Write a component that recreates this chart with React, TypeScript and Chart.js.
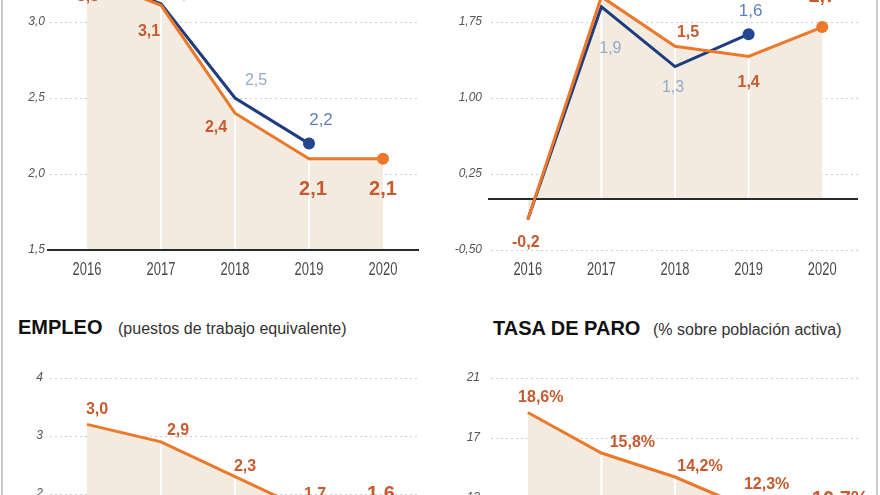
import React, { useEffect, useRef } from "react";
import { Chart, registerables } from "chart.js";

Chart.register(...registerables);

// ---------- data ----------
const years = ["2016", "2017", "2018", "2019", "2020"];

// top-left panel
const pibOrange = [3.3, 3.11, 2.4, 2.1, 2.1];
const pibBlue = [3.3, 3.12, 2.5, 2.2];
const pibOrangeLabels = ["3,3", "3,1", "2,4", "2,1", "2,1"];
const pibBlueLabels = ["", "3,1", "2,5", "2,2"];
const pibTicks = [1.5, 2.0, 2.5, 3.0, 3.5];

// top-right panel
const ipcOrange = [-0.2, 2.0, 1.51, 1.41, 1.7];
const ipcBlue = [-0.2, 1.9, 1.31, 1.63];
const ipcOrangeLabels = ["-0,2", "2,0", "1,5", "1,4", "1,7"];
const ipcBlueLabels = ["", "1,9", "1,3", "1,6"];
const ipcTicks = [-0.5, 0.25, 1.0, 1.75, 2.5];

// bottom-left panel (EMPLEO)
const empleoOrange = [3.2, 2.9, 2.3, 1.7, 1.6];
const empleoLabels = ["3,0", "2,9", "2,3", "1,7", "1,6"];
const empleoTicks = [1, 2, 3, 4];

// bottom-right panel (TASA DE PARO)
const paroOrange = [18.7, 16.0, 14.4, 12.3, 10.7];
const paroLabels = ["18,6%", "15,8%", "14,2%", "12,3%", "10,7%"];
const paroTicks = [9, 13, 17, 21];

// ---------- label placement (text offsets from each point) ----------
type Off = [number, number];
const pibOrangeOff: Off[] = [[1, 20], [-12, 26], [-19, 14], [4, 31], [0, 31]];
const pibOrangeBig = [false, false, false, true, true];
const pibBlueOff: Off[] = [[0, 0], [23, -9], [21, -17], [12, -23]];
const pibBlueStrong = [false, false, false, true];

const ipcOrangeOff: Off[] = [[-2, 23], [0, -22], [13, -14], [0, 26], [0, -31]];
const ipcOrangeBig = [false, false, false, false, true];
const ipcBlueOff: Off[] = [[0, 0], [9, 42], [-2, 21], [2, -23]];
const ipcBlueStrong = [false, false, false, true];

const empleoOff: Off[] = [[10, -15], [17, -11], [10, -10], [6, -17], [-2, -23]];
const empleoBig = [false, false, false, false, true];

const paroOff: Off[] = [[13, -15], [31, -10], [25, -10], [18, -24], [18, -33]];
const paroBig = [false, false, false, false, true];

// ---------- styles ----------
const FONT = "'Liberation Sans', Arial, Helvetica, sans-serif";
const ORANGE = "#ec792b";
const NAVY = "#1f3c7e";
const FILL = "#f3ebe0";
const LBL_OR = "#c65a30";
const LBL_BL_LIGHT = "#94aacb";
const LBL_BL = "#5f80b8";

interface LabelSpec {
  ds: number;
  i: number;
  text: string;
  dx: number;
  dy: number;
  color: string;
  font: string;
}

function orangeLabels(ds: number, texts: string[], offs: Off[], big: boolean[], normalSize = 16): LabelSpec[] {
  return texts
    .map((t, i) => ({
      ds,
      i,
      text: t,
      dx: offs[i][0],
      dy: offs[i][1],
      color: LBL_OR,
      font: `bold ${big[i] ? 20 : normalSize}px ${FONT}`,
    }))
    .filter((l) => l.text !== "");
}

function blueLabels(ds: number, texts: string[], offs: Off[], strong: boolean[]): LabelSpec[] {
  return texts
    .map((t, i) => ({
      ds,
      i,
      text: t,
      dx: offs[i][0],
      dy: offs[i][1],
      color: strong[i] ? LBL_BL : LBL_BL_LIGHT,
      font: `${strong[i] ? 17 : 16}px ${FONT}`,
    }))
    .filter((l) => l.text !== "");
}

const decorPlugin = {
  id: "decor",
  afterDatasetDraw(chart: any, args: any, opts: any) {
    if (args.index !== opts.fillIndex) return;
    const ctx = chart.ctx;
    const y = chart.scales.y;
    const area = chart.chartArea;
    const meta = chart.getDatasetMeta(args.index);
    const y0 = y.getPixelForValue(opts.sepBase);
    ctx.save();
    ctx.strokeStyle = "#ffffff";
    ctx.lineWidth = 2;
    for (let i = 1; i < meta.data.length - 1; i++) {
      const p = meta.data[i];
      ctx.beginPath();
      ctx.moveTo(p.x, y0);
      ctx.lineTo(p.x, p.y + 2);
      ctx.stroke();
    }
    if (opts.baseline !== undefined && opts.baseline !== null) {
      const yb = Math.round(y.getPixelForValue(opts.baseline));
      ctx.strokeStyle = "#2a2a2a";
      ctx.lineWidth = 2;
      ctx.beginPath();
      ctx.moveTo(area.left - 3, yb);
      ctx.lineTo(area.right - 1, yb);
      ctx.stroke();
    }
    ctx.restore();
  },
  afterDatasetsDraw(chart: any, _args: any, opts: any) {
    const ctx = chart.ctx;
    ctx.save();
    ctx.textAlign = "center";
    ctx.textBaseline = "middle";
    for (const l of opts.labels as LabelSpec[]) {
      const p = chart.getDatasetMeta(l.ds).data[l.i];
      if (!p) continue;
      ctx.font = l.font;
      ctx.fillStyle = l.color;
      ctx.fillText(l.text, p.x + l.dx, p.y + l.dy);
    }
    // condensed category labels under the axis
    if (opts.xLabels) {
      const xs = chart.scales.x;
      const labels = chart.data.labels as string[];
      ctx.font = `18px ${FONT}`;
      ctx.fillStyle = "#4a4a4a";
      labels.forEach((lab, i) => {
        const px = xs.getPixelForTick(i);
        ctx.save();
        ctx.translate(px, chart.chartArea.bottom + 20);
        ctx.scale(0.72, 1);
        ctx.fillText(lab, 0, 0);
        ctx.restore();
      });
    }
    ctx.restore();
  },
};

interface PanelProps {
  left: number;
  top: number;
  width: number;
  height: number;
  orange: number[];
  blue?: number[];
  ticks: number[];
  decimals: number;
  fillTo: "start" | "origin";
  sepBase: number;
  baseline?: number;
  padTop: number;
  padRight: number;
  padBottom: number;
  yWidth: number;
  yPad: number;
  xHeight: number;
  showX: boolean;
  labels: LabelSpec[];
}

function Panel(p: PanelProps) {
  const ref = useRef<HTMLCanvasElement | null>(null);
  useEffect(() => {
    if (!ref.current) return;
    const lastIdx = (arr: number[]) => arr.map((_, i) => (i === arr.length - 1 ? 6 : 0));
    const datasets: any[] = [
      {
        data: p.orange,
        borderColor: ORANGE,
        borderWidth: 3,
        backgroundColor: ORANGE,
        pointBackgroundColor: ORANGE,
        pointBorderWidth: 0,
        pointRadius: lastIdx(p.orange),
        fill: false,
        tension: 0,
        order: 0,
      },
    ];
    if (p.blue) {
      datasets.push({
        data: p.blue,
        borderColor: NAVY,
        borderWidth: 3,
        backgroundColor: NAVY,
        pointBackgroundColor: "#22468f",
        pointBorderWidth: 0,
        pointRadius: lastIdx(p.blue),
        fill: false,
        tension: 0,
        order: 1,
      });
    }
    const fillIndex = datasets.length;
    datasets.push({
      data: p.orange,
      borderWidth: 0,
      borderColor: "rgba(0,0,0,0)",
      backgroundColor: FILL,
      pointRadius: 0,
      fill: p.fillTo,
      tension: 0,
      order: 10,
    });
    const chart = new Chart(ref.current, {
      type: "line",
      data: { labels: years, datasets },
      plugins: [decorPlugin as any],
      options: {
        animation: false,
        responsive: false,
        events: [],
        layout: { padding: { top: p.padTop, right: p.padRight, bottom: p.padBottom, left: 0 } },
        plugins: {
          legend: { display: false },
          tooltip: { enabled: false },
          decor: { fillIndex, sepBase: p.sepBase, baseline: p.baseline, labels: p.labels, xLabels: p.showX },
        } as any,
        scales: {
          x: {
            type: "category",
            offset: true,
            display: p.showX,
            grid: { display: false, drawTicks: false },
            border: { display: false },
            ticks: { display: false },
            afterFit: (s: any) => {
              s.height = p.xHeight;
            },
          },
          y: {
            min: p.ticks[0],
            max: p.ticks[p.ticks.length - 1],
            afterBuildTicks: (s: any) => {
              s.ticks = p.ticks.map((v) => ({ value: v }));
            },
            afterFit: (s: any) => {
              s.width = p.yWidth;
            },
            grid: { color: "#cdcdcd", lineWidth: 1, drawTicks: false },
            border: { display: false, dash: [2, 3] },
            ticks: {
              color: "#555555",
              padding: p.yPad,
              font: { family: FONT, size: 12, style: "italic" },
              callback: (v: any) => Number(v).toFixed(p.decimals).replace(".", ","),
            },
          },
        },
      } as any,
    });
    return () => chart.destroy();
  }, []);
  return (
    <canvas
      ref={ref}
      width={p.width}
      height={p.height}
      style={{ position: "absolute", left: p.left, top: p.top, width: p.width, height: p.height }}
    />
  );
}

const titleStyle: React.CSSProperties = {
  position: "absolute",
  fontFamily: FONT,
  fontWeight: "bold",
  fontSize: 20,
  lineHeight: "20px",
  color: "#111",
  whiteSpace: "nowrap",
};
const subStyle: React.CSSProperties = {
  position: "absolute",
  fontFamily: FONT,
  fontSize: 16,
  lineHeight: "20px",
  color: "#333",
  whiteSpace: "nowrap",
};

export default function App() {
  return (
    <div
      style={{
        position: "fixed",
        left: 0,
        top: 0,
        width: 880,
        height: 495,
        overflow: "hidden",
        background: "#ffffff",
      }}
    >
      <Panel
        left={0}
        top={-80}
        width={440}
        height={380}
        orange={pibOrange}
        blue={pibBlue}
        ticks={pibTicks}
        decimals={1}
        fillTo="start"
        sepBase={pibTicks[0]}
        baseline={pibTicks[0]}
        padTop={26}
        padRight={20}
        padBottom={0}
        yWidth={50}
        yPad={5}
        xHeight={50}
        showX={true}
        labels={[
          ...orangeLabels(0, pibOrangeLabels, pibOrangeOff, pibOrangeBig),
          ...blueLabels(1, pibBlueLabels, pibBlueOff, pibBlueStrong),
        ]}
      />
      <Panel
        left={440}
        top={-80}
        width={440}
        height={380}
        orange={ipcOrange}
        blue={ipcBlue}
        ticks={ipcTicks}
        decimals={2}
        fillTo="origin"
        sepBase={0}
        baseline={0}
        padTop={26}
        padRight={21}
        padBottom={0}
        yWidth={51}
        yPad={9}
        xHeight={50}
        showX={true}
        labels={[
          ...orangeLabels(0, ipcOrangeLabels, ipcOrangeOff, ipcOrangeBig),
          ...blueLabels(1, ipcBlueLabels, ipcBlueOff, ipcBlueStrong),
        ]}
      />
      <Panel
        left={0}
        top={340}
        width={440}
        height={300}
        orange={empleoOrange}
        ticks={empleoTicks}
        decimals={0}
        fillTo="start"
        sepBase={empleoTicks[0]}
        padTop={38}
        padRight={20}
        padBottom={88}
        yWidth={50}
        yPad={7}
        xHeight={0}
        showX={false}
        labels={orangeLabels(0, empleoLabels, empleoOff, empleoBig)}
      />
      <Panel
        left={440}
        top={340}
        width={440}
        height={300}
        orange={paroOrange}
        ticks={paroTicks}
        decimals={0}
        fillTo="start"
        sepBase={paroTicks[0]}
        padTop={38}
        padRight={21}
        padBottom={82}
        yWidth={51}
        yPad={11}
        xHeight={0}
        showX={false}
        labels={orangeLabels(0, paroLabels, paroOff, paroBig, 16)}
      />
      <div style={{ ...titleStyle, left: 18, top: 317 }}>EMPLEO</div>
      <div style={{ ...subStyle, left: 118, top: 319 }}>(puestos de trabajo equivalente)</div>
      <div style={{ ...titleStyle, left: 493, top: 318 }}>TASA DE PARO</div>
      <div style={{ ...subStyle, left: 653, top: 320 }}>(% sobre población activa)</div>
      <div style={{ position: "absolute", left: 1, top: 0, width: 2, height: 495, background: "#c9c9c9" }} />
      <div style={{ position: "absolute", left: 876, top: 0, width: 2, height: 495, background: "#c9c9c9" }} />
    </div>
  );
}
